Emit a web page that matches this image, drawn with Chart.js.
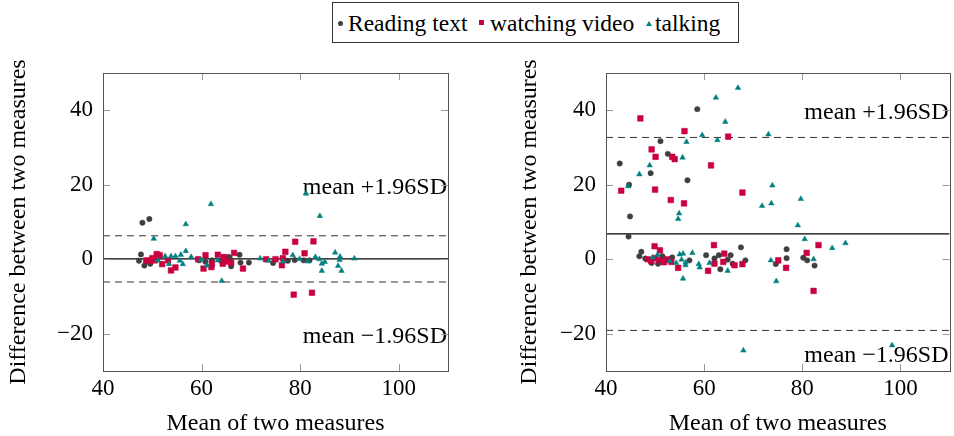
<!DOCTYPE html>
<html><head><meta charset="utf-8">
<script src="https://cdn.jsdelivr.net/npm/chart.js@4/dist/chart.umd.min.js"></script>
<style>
html,body{margin:0;padding:0;background:#fff;}
body{width:954px;height:436px;position:relative;overflow:hidden;font-family:'Liberation Serif','Times New Roman',serif;color:#000;}
canvas{position:absolute;top:0;}
#c1{left:0;}
#c2{left:477px;}
.lg{position:absolute;font-size:23.5px;line-height:23px;white-space:nowrap;}
#legendBox{position:absolute;left:332px;top:2px;width:405px;height:39px;border:1px solid #333;}
</style>
</head><body>
<div id="legendBox"></div>
<div style="position:absolute;left:337.5px;top:20.5px;width:5px;height:5px;border-radius:50%;background:#3f3f3f;"></div>
<span class="lg" style="left:348px;top:11.5px;">Reading text</span>
<div style="position:absolute;left:479px;top:20px;width:5px;height:5px;background:#c8003f;"></div>
<span class="lg" style="left:490px;top:11.5px;">watching video</span>
<div style="position:absolute;left:645.5px;top:20.5px;width:0;height:0;border-left:3px solid transparent;border-right:3px solid transparent;border-bottom:5px solid #008080;"></div>
<span class="lg" style="left:655px;top:11.5px;">talking</span>
<canvas id="c1" width="477" height="436"></canvas>
<canvas id="c2" width="477" height="436"></canvas>
<script>
// ---- data ----
const xTicks = [40, 60, 80, 100];
const yTicks = [-20, 0, 20, 40];
const lineX = [40, 110];

const leftReadingX = [48.0, 49.4, 47.7, 47.3, 48.4, 49.6, 48.8, 50.2, 59.5, 60.8, 62.1, 64.0, 65.5, 65.7, 66.0, 67.7, 67.9, 69.6, 74.5, 77.5, 78.9, 80.7, 81.9];
const leftReadingY = [9.8, 10.8, 1.3, -0.4, -1.7, -1.2, -0.6, -0.2, -0.3, -0.7, -0.3, -0.5, 0.6, 0.4, -1.9, 1.2, -0.9, -0.9, -1.0, -0.4, -0.2, -0.3, -0.3];

const leftVideoX = [79.0, 82.7, 78.7, 82.4, 77.0, 80.9, 76.5, 76.3, 75.0, 73.1, 66.6, 68.4, 64.5, 63.3, 60.8, 62.1, 62.0, 60.4, 59.3, 64.3, 66.0, 54.7, 53.8, 52.0, 50.9, 51.5, 49.5, 50.0, 50.5, 51.0, 48.8, 53.2, 65.0];
const leftVideoY = [4.7, 4.8, -9.5, -9.0, 2.0, 1.6, 0.3, -1.6, 0.0, 0.0, 1.7, -2.5, 0.6, 1.2, 1.1, -1.2, -2.1, -2.5, 0.0, -1.2, -0.9, -2.2, -3.0, -1.3, 1.4, 1.1, -0.4, 0.3, -0.3, 0.5, -0.3, -0.3, -0.6];

const leftTalkingX = [81.2, 61.9, 84.0, 56.8, 50.3, 64.1, 56.8, 51.1, 52.6, 53.8, 54.7, 53.4, 55.6, 56.2, 55.8, 57.9, 59.8, 61.1, 63.3, 71.9, 73.6, 76.5, 78.5, 79.9, 81.6, 83.1, 84.4, 85.0, 84.4, 83.9, 87.1, 88.1, 88.0, 87.7, 88.4, 91.0];
const leftTalkingY = [17.6, 14.8, 11.6, 9.4, 5.5, -5.8, 2.2, -0.3, 0.8, 0.8, 0.8, -1.3, -0.4, -1.3, 1.2, 0.6, -0.1, -1.7, -0.3, 0.2, -0.4, -0.6, 1.1, 0.1, -0.6, 0.6, -1.2, -0.7, -3.1, 0.0, 1.8, 0.7, -0.2, -1.8, -3.1, 0.2];

const rightReadingX = [58.6, 51.1, 52.6, 42.8, 49.1, 56.6, 44.7, 44.9, 44.6, 47.2, 46.8, 48.0, 49.3, 50.6, 52.0, 53.5, 51.5, 57.0, 60.4, 63.0, 62.1, 65.4, 67.5, 68.4, 63.3, 64.8, 65.8, 74.6, 76.8, 76.8, 80.2, 81.0, 82.5];
const rightReadingY = [40.3, 31.7, 28.3, 25.7, 23.1, 21.2, 20.0, 11.5, 6.1, 2.0, 0.8, 0.2, -1.0, -1.2, -0.5, 0.5, 0.8, -0.3, 1.1, 1.1, 0.2, 1.1, 3.2, -0.3, -2.7, -0.1, -1.2, -1.3, 2.7, 0.3, 0.4, -0.3, -1.7];

const rightVideoX = [47.0, 56.0, 64.9, 49.3, 50.1, 53.5, 54.0, 61.4, 43.1, 50.0, 67.8, 53.2, 55.9, 49.9, 51.0, 62.0, 64.1, 63.9, 62.1, 60.8, 66.2, 67.8, 54.7, 53.3, 48.5, 49.2, 50.0, 50.8, 51.8, 52.5, 75.1, 76.7, 80.9, 83.3, 82.3];
const rightVideoY = [37.8, 34.4, 32.9, 29.5, 27.5, 27.5, 26.9, 25.2, 18.4, 18.7, 17.9, 15.9, 15.0, 3.5, 2.4, 3.8, 1.5, -0.7, -1.2, -3.1, -1.6, -1.3, -2.3, -0.7, 0.0, -0.5, 0.3, -0.2, -0.8, 0.0, -0.3, -2.3, 1.7, 3.8, -8.5];

const rightTalkingX = [66.9, 62.4, 64.3, 59.6, 73.1, 56.4, 62.7, 55.6, 48.9, 46.8, 44.5, 73.9, 79.7, 73.7, 71.8, 54.9, 54.7, 79.1, 80.5, 86.1, 88.8, 68.0, 98.3, 57.6, 55.7, 55.0, 55.4, 56.2, 56.2, 54.3, 53.0, 50.5, 49.5, 58.9, 59.1, 61.1, 64.8, 55.7, 73.6, 74.7, 82.3];
const rightTalkingY = [46.0, 43.4, 36.9, 33.3, 33.5, 31.5, 32.0, 27.3, 25.2, 22.8, 19.6, 19.8, 16.2, 15.0, 14.3, 12.3, 10.8, 9.1, 5.4, 3.0, 4.3, -24.5, -23.1, 1.7, 1.5, 1.3, -0.1, -0.9, -1.6, -1.0, -0.5, 1.2, 0.5, -1.3, -2.2, -1.0, -3.1, -5.2, -0.3, -5.9, 0.0];

// upper limit, mean, lower limit
const leftLimits = [6.3, 0.1, -6.1];
const rightLimits = [32.7, 6.8, -19.1];

// ---- rendering ----
const FONT_FAMILY = "'Liberation Serif','Times New Roman',serif";
const FONT = {family: FONT_FAMILY, size: 23};
const COL_READ = '#3f3f3f', COL_VIDEO = '#c8003f', COL_TALK = '#008080';

function pts(xs, ys) { return xs.map((x, i) => ({x: x, y: ys[i]})); }
function hline(v) { return lineX.map(x => ({x: x, y: v})); }
function fmt(v) { return v < 0 ? '\u2212' + Math.abs(v) : String(v); }

const framePlugin = {
  id: 'frame',
  beforeDatasetsDraw(chart, args, opts) {
    const ctx = chart.ctx, a = chart.chartArea, ys = chart.scales.y;
    ctx.save();
    ctx.font = '24px ' + FONT_FAMILY;
    ctx.fillStyle = '#000';
    ctx.textAlign = 'right';
    ctx.textBaseline = 'alphabetic';
    ctx.fillText('mean +1.96SD', a.right - 1, ys.getPixelForValue(opts.upperLabel));
    ctx.fillText('mean \u22121.96SD', a.right - 1, ys.getPixelForValue(opts.lowerLabel));
    ctx.restore();
  },
  afterDraw(chart) {
    const ctx = chart.ctx, a = chart.chartArea, xs = chart.scales.x, ys = chart.scales.y;
    ctx.save();
    ctx.lineWidth = 1;
    ctx.strokeStyle = '#9a9a9a';
    const L = 7;
    ctx.beginPath();
    xTicks.forEach(v => {
      const p = Math.round(xs.getPixelForValue(v)) + 0.5;
      if (p <= a.left + 1 || p >= a.right - 1) return;
      ctx.moveTo(p, a.bottom); ctx.lineTo(p, a.bottom - L);
      ctx.moveTo(p, a.top); ctx.lineTo(p, a.top + L);
    });
    yTicks.forEach(v => {
      const p = Math.round(ys.getPixelForValue(v)) + 0.5;
      ctx.moveTo(a.left, p); ctx.lineTo(a.left + L, p);
      ctx.moveTo(a.right, p); ctx.lineTo(a.right - L, p);
    });
    ctx.stroke();
    ctx.strokeStyle = '#555';
    ctx.strokeRect(Math.round(a.left) + 0.5, Math.round(a.top) + 0.5, Math.round(a.right - a.left), Math.round(a.bottom - a.top));
    ctx.restore();
  }
};

function makeChart(id, rx, ry, vx, vy, tx, ty, limits, padL, yW, padR, labels) {
  const lineDs = (v, dashed) => ({
    data: hline(v), showLine: true, pointRadius: 0, borderColor: dashed ? '#333' : '#000',
    borderWidth: dashed ? 1 : 1.2, borderDash: dashed ? [7, 5] : [], order: 4
  });
  return new Chart(document.getElementById(id), {
    type: 'scatter',
    data: {
      datasets: [
        {data: pts(rx, ry), pointStyle: 'circle', pointRadius: 2.7, backgroundColor: COL_READ, borderColor: COL_READ, borderWidth: 0.5, order: 3},
        {data: pts(vx, vy), pointStyle: 'rect', pointRadius: 4, backgroundColor: COL_VIDEO, borderColor: COL_VIDEO, borderWidth: 0.5, order: 2},
        {data: pts(tx, ty), pointStyle: 'triangle', pointRadius: 3.2, backgroundColor: COL_TALK, borderColor: COL_TALK, borderWidth: 0.5, order: 1},
        lineDs(limits[0], true),
        lineDs(limits[1], false),
        lineDs(limits[2], true)
      ]
    },
    options: {
      responsive: false, animation: false, devicePixelRatio: 1,
      layout: {padding: {left: padL, right: padR, top: 73, bottom: 0}},
      plugins: {legend: {display: false}, tooltip: {enabled: false},
        frame: {upperLabel: labels[0], lowerLabel: labels[1]}},
      scales: {
        x: {
          type: 'linear', min: 40, max: 110,
          afterBuildTicks: s => { s.ticks = xTicks.map(v => ({value: v})); },
          afterFit: s => { s.height = 65; },
          grid: {display: false, drawTicks: false}, border: {display: false},
          ticks: {font: FONT, color: '#000', padding: 4, maxRotation: 0, autoSkip: false, callback: v => fmt(v)},
          title: {display: true, text: 'Mean of two measures', font: {family: FONT_FAMILY, size: 24, lineHeight: 1}, color: '#000', padding: 0}
        },
        y: {
          type: 'linear', min: -30, max: 50,
          afterBuildTicks: s => { s.ticks = yTicks.map(v => ({value: v})); },
          afterFit: s => { s.width = yW; },
          grid: {display: false, drawTicks: false}, border: {display: false},
          ticks: {font: FONT, color: '#000', padding: 10, autoSkip: false, callback: v => fmt(v)},
          title: {display: true, text: 'Difference between two measures', font: {family: FONT_FAMILY, size: 24, lineHeight: 1.2}, color: '#000', padding: {top: 4, bottom: 0}}
        }
      }
    },
    plugins: [framePlugin]
  });
}

makeChart('c1', leftReadingX, leftReadingY, leftVideoX, leftVideoY, leftTalkingX, leftTalkingY, leftLimits, 0, 103, 29, [17.4, -22.6]);
makeChart('c2', rightReadingX, rightReadingY, rightVideoX, rightVideoY, rightTalkingX, rightTalkingY, rightLimits, 34, 95, 3, [37.6, -27.5]);
</script>
</body></html>
